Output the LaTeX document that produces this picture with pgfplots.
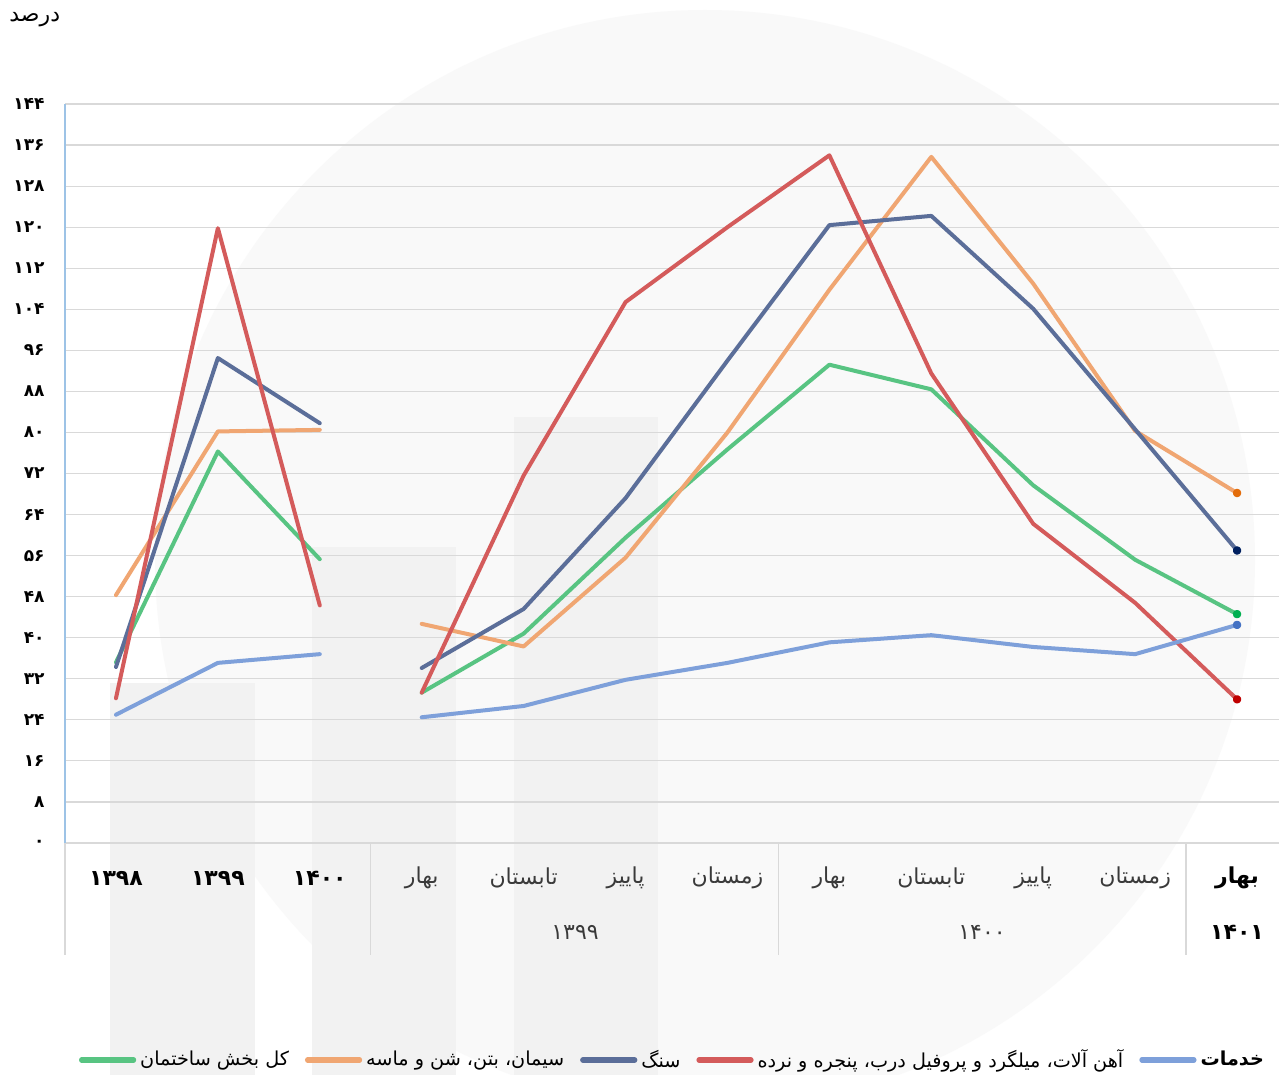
\documentclass[border=0pt]{standalone}
\usepackage{pgfplots}
\pgfplotsset{compat=1.18}
\usepackage{fontspec}
\setmainfont{DejaVu Sans}
\newfontfamily\fa[Script=Arabic]{DejaVu Sans}
\TeXXeTstate=1
\newcommand{\R}[1]{{\fa\beginR #1\endR}}

\definecolor{cGreen}{HTML}{58C482}
\definecolor{cOrange}{HTML}{F0A672}
\definecolor{cNavy}{HTML}{5B6E99}
\definecolor{cRed}{HTML}{D45B5B}
\definecolor{cLight}{HTML}{7EA0DA}
\definecolor{dGreen}{HTML}{00B050}
\definecolor{dOrange}{HTML}{E36C0A}
\definecolor{dNavy}{HTML}{002060}
\definecolor{dRed}{HTML}{C00000}
\definecolor{dLight}{HTML}{4472C4}
\definecolor{gridgray}{HTML}{D9D9D9}
\definecolor{axisblue}{HTML}{9DC3E6}
\definecolor{txt}{HTML}{3A3A3A}

\begin{document}
\begin{tikzpicture}
% watermark and fixed texts, in pixel units of the reference (y down)
\begin{scope}[x=0.5pt,y=-0.5pt]
  \fill[white] (0,0) rectangle (1279,1075);
  \fill[black!2.5] (705,560) circle (550);
  \fill[black!5] (110,683) rectangle (255,1075);
  \fill[black!5] (312,547) rectangle (456,1075);
  \fill[black!5] (514,417) rectangle (658,1075);
  \node[anchor=west,inner sep=0pt,font=\fontsize{11}{13}\selectfont] at (9,20) {\R{درصد}};
  \draw[gridgray,line width=0.6pt] (65,843) -- (65,955) (370.75,843) -- (370.75,955)
    (778.4,843) -- (778.4,955) (1186,843) -- (1186,955);
  \node[font=\fontsize{11}{13}\selectfont,text=txt] at (575,932) {\fa ۱۳۹۹};
  \node[font=\fontsize{11}{13}\selectfont,text=txt] at (982,932) {\fa ۱۴۰۰};
  \node[font=\fontsize{11}{13}\selectfont\bfseries] at (1237,932) {\fa ۱۴۰۱};
\end{scope}

\begin{axis}[
  at={(32.5pt,-421.5pt)},anchor=south west,scale only axis,
  width=611.5pt,height=369.5pt,
  xmin=-0.5,xmax=11.5,ymin=0,ymax=144,
  axis x line*=bottom,axis y line*=left,
  x axis line style={draw=gridgray,line width=0.6pt,-},
  y axis line style={draw=axisblue,line width=0.8pt,-},
  major tick length=0pt,
  ytick={0,8,...,144},
  yticklabels={{۰},{۸},{۱۶},{۲۴},{۳۲},{۴۰},{۴۸},{۵۶},{۶۴},{۷۲},{۸۰},{۸۸},{۹۶},{۱۰۴},{۱۱۲},{۱۲۰},{۱۲۸},{۱۳۶},{۱۴۴}},
  yticklabel style={anchor=east,inner sep=0pt,xshift=-10pt,font=\fa\bfseries\fontsize{8.5}{10}\selectfont},
  xtick={0,...,11},
  xticklabels={{\bfseries ۱۳۹۸},{\bfseries ۱۳۹۹},{\bfseries ۱۴۰۰},
    {\color{txt}\R{بهار}},{\color{txt}\R{تابستان}},{\color{txt}\R{پاییز}},{\color{txt}\R{زمستان}},
    {\color{txt}\R{بهار}},{\color{txt}\R{تابستان}},{\color{txt}\R{پاییز}},{\color{txt}\R{زمستان}},
    {\bfseries\R{بهار}}},
  xticklabel style={anchor=center,inner sep=0pt,yshift=-17.5pt,font=\fa\fontsize{11}{13}\selectfont},
  ymajorgrids,grid style={draw=gridgray,line width=0.6pt},
  unbounded coords=jump,
  every axis plot/.append style={line width=2pt,line join=round,line cap=round},
  legend style={at={(0.4975,-0.2936)},anchor=center,draw=none,fill=none,
    legend columns=-1,font=\fa\fontsize{9.6}{12}\selectfont,
    /tikz/every even column/.append style={column sep=6pt}},
  legend image code/.code={\draw[#1,line width=2.6pt,line cap=round] (0pt,0pt) -- (26pt,0pt);},
]
\addplot[cGreen] coordinates {(0,35.2) (1,76.3) (2,55.3) (2.5,nan)
  (3,29.3) (4,40.8) (5,59.5) (6,76.7) (7,93.2) (8,88.4) (9,69.7) (10,55.2) (11,44.6)};
\addlegendentry{\R{کل بخش ساختمان}}
\addplot[cOrange] coordinates {(0,48.3) (1,80.2) (2,80.5) (2.5,nan)
  (3,42.7) (4,38.3) (5,55.6) (6,80) (7,107.8) (8,133.7) (9,109) (10,80.3) (11,68.2)};
\addlegendentry{\R{سیمان، بتن، شن و ماسه}}
\addplot[cNavy] coordinates {(0,34.3) (1,94.5) (2,81.8) (2.5,nan)
  (3,34.1) (4,45.6) (5,67.2) (6,94) (7,120.4) (8,122.2) (9,104.1) (10,80.6) (11,57)};
\addlegendentry{\R{سنگ}}
\addplot[cRed] coordinates {(0,28.2) (1,119.8) (2,46.3) (2.5,nan)
  (3,29.3) (4,71.6) (5,105.4) (6,120) (7,134) (8,91.5) (9,62.2) (10,46.8) (11,28)};
\addlegendentry{\R{آهن آلات، میلگرد و پروفیل درب، پنجره و نرده}}
\addplot[cLight] coordinates {(0,25) (1,35.1) (2,36.8) (2.5,nan)
  (3,24.5) (4,26.7) (5,31.8) (6,35.1) (7,39.1) (8,40.5) (9,38.2) (10,36.8) (11,42.5)};
\addlegendentry{\bfseries\R{خدمات}}
% small dark caps on the last points
\addplot[forget plot,only marks,mark=*,mark size=1.1pt,dGreen] coordinates {(11,44.6)};
\addplot[forget plot,only marks,mark=*,mark size=1.1pt,dOrange] coordinates {(11,68.2)};
\addplot[forget plot,only marks,mark=*,mark size=1.1pt,dNavy] coordinates {(11,57)};
\addplot[forget plot,only marks,mark=*,mark size=1.1pt,dRed] coordinates {(11,28)};
\addplot[forget plot,only marks,mark=*,mark size=1.1pt,dLight] coordinates {(11,42.5)};
\end{axis}
\pgfresetboundingbox
\path[use as bounding box] (0pt,0pt) rectangle (639.5pt,-537.5pt);
\end{tikzpicture}
\end{document}
